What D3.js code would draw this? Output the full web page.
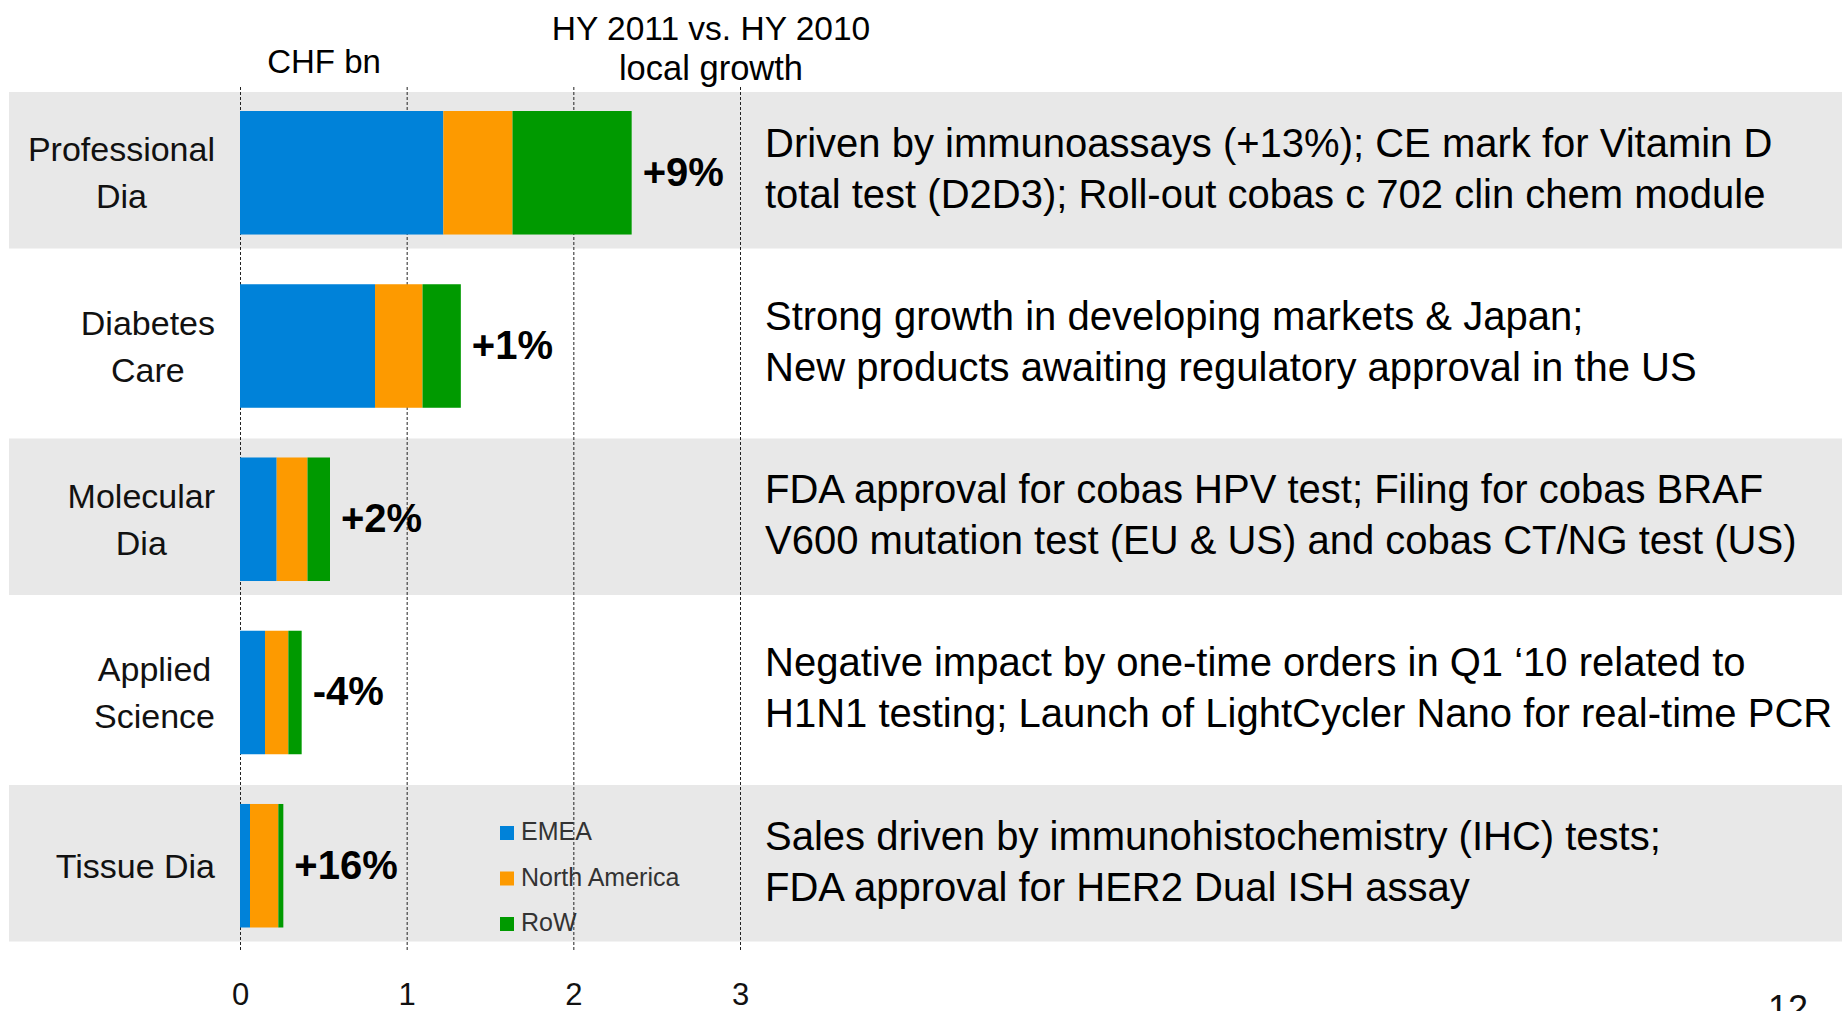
<!DOCTYPE html>
<html>
<head>
<meta charset="utf-8">
<script src="https://cdn.jsdelivr.net/npm/d3@7"></script>
<style>
  html, body { margin: 0; padding: 0; background: #fff; }
  svg { display: block; font-family: "Liberation Sans", Arial, sans-serif; }
</style>
</head>
<body>
<div id="chart"></div>
<script>
// data (CHF bn, HY 2011)
const categories = ["Professional Dia", "Diabetes Care", "Molecular Dia", "Applied Science", "Tissue Dia"];
const categoryLines = [["Professional", "Dia"], ["Diabetes", "Care"], ["Molecular", "Dia"], ["Applied", "Science"], ["Tissue Dia"]];
const seriesNames = ["EMEA", "North America", "RoW"];
const emea = [1.22, 0.81, 0.22, 0.15, 0.06];
const northAmerica = [0.415, 0.285, 0.185, 0.14, 0.17];
const restOfWorld = [0.715, 0.23, 0.135, 0.08, 0.03];
const growth = ["+9%", "+1%", "+2%", "-4%", "+16%"];
const descriptions = [
  ["Driven by immunoassays (+13%); CE mark for Vitamin D", "total test (D2D3); Roll-out cobas c 702 clin chem module"],
  ["Strong growth in developing markets & Japan;", "New products awaiting regulatory approval in the US"],
  ["FDA approval for cobas HPV test; Filing for cobas BRAF", "V600 mutation test (EU & US) and cobas CT/NG test (US)"],
  ["Negative impact by one-time orders in Q1 \u201810 related to", "H1N1 testing; Launch of LightCycler Nano for real-time PCR"],
  ["Sales driven by immunohistochemistry (IHC) tests;", "FDA approval for HER2 Dual ISH assay"]
];
const tickValues = [0, 1, 2, 3];

const width = 1846;
const height = 1011;
const colors = ["#0082d9", "#fd9a00", "#009a00"];

const svg = d3.select("#chart")
  .append("svg")
  .attr("width", width)
  .attr("height", height);

// table for the stack
const table = categories.map((c, i) => ({
  category: c,
  "EMEA": emea[i],
  "North America": northAmerica[i],
  "RoW": restOfWorld[i]
}));
const stacked = d3.stack().keys(seriesNames)(table);
const totals = table.map(d => d3.sum(seriesNames, k => d[k]));

const x = d3.scaleLinear().domain([0, 3]).range([240, 740]);
const y = d3.scaleBand().domain(categories).range([111, 927.5]).paddingInner(0.287);
const color = d3.scaleOrdinal().domain(seriesNames).range(colors);

// alternating grey row bands
svg.append("g")
  .selectAll("rect")
  .data(categories.filter((c, i) => i % 2 === 0))
  .join("rect")
  .attr("x", 9)
  .attr("width", 1833)
  .attr("y", d => y(d) - 19)
  .attr("height", d => y.bandwidth() + 33)
  .attr("fill", "#e8e8e8");

// dashed grid lines
svg.append("g")
  .selectAll("line")
  .data(tickValues)
  .join("line")
  .attr("x1", d => x(d) + 0.5)
  .attr("x2", d => x(d) + 0.5)
  .attr("y1", 87)
  .attr("y2", 952)
  .attr("stroke", "#222")
  .attr("stroke-width", 1)
  .attr("stroke-dasharray", "3,2");

// stacked bars
svg.append("g")
  .selectAll("g")
  .data(stacked)
  .join("g")
  .attr("fill", d => color(d.key))
  .selectAll("rect")
  .data(d => d)
  .join("rect")
  .attr("x", d => x(d[0]))
  .attr("width", d => x(d[1]) - x(d[0]))
  .attr("y", d => y(d.data.category))
  .attr("height", y.bandwidth());

// category labels: block right aligned, lines centred within it
const labels = svg.append("g")
  .attr("font-size", 34)
  .attr("fill", "#111")
  .attr("text-anchor", "middle");

categories.forEach((c, i) => {
  const lines = categoryLines[i];
  const cy = y(c) + y.bandwidth() / 2;
  const t = labels.append("text");
  const spans = lines.map((line, j) => t.append("tspan")
    .attr("y", cy + 12 + (j - (lines.length - 1) / 2) * 47)
    .text(line));
  const maxW = d3.max(spans, s => s.node().getComputedTextLength());
  spans.forEach(s => s.attr("x", 215 - maxW / 2));
});

// growth labels
svg.append("g")
  .selectAll("text")
  .data(categories)
  .join("text")
  .attr("x", (d, i) => x(totals[i]) + 11)
  .attr("y", d => y(d) + y.bandwidth() / 2 + 13)
  .attr("font-size", 40)
  .attr("font-weight", "bold")
  .attr("fill", "#000")
  .text((d, i) => growth[i]);

// descriptions
const desc = svg.append("g")
  .attr("font-size", 40)
  .attr("fill", "#000");

categories.forEach((c, i) => {
  const cy = y(c) + y.bandwidth() / 2;
  const t = desc.append("text");
  descriptions[i].forEach((line, j) => {
    t.append("tspan")
      .attr("x", 765)
      .attr("y", cy - 16 + j * 51)
      .text(line);
  });
});

// headers
svg.append("text")
  .attr("x", 324)
  .attr("y", 73)
  .attr("text-anchor", "middle")
  .attr("font-size", 33)
  .text("CHF bn");

const head = svg.append("text")
  .attr("text-anchor", "middle")
  .attr("font-size", 33.5);
head.append("tspan").attr("x", 711).attr("y", 40).text("HY 2011 vs. HY 2010");
head.append("tspan").attr("x", 711).attr("y", 80).attr("font-size", 34.5).text("local growth");

// x axis
const axis = svg.append("g")
  .attr("transform", "translate(0,983)")
  .call(d3.axisBottom(x).tickValues(tickValues).tickSize(0).tickPadding(0).tickFormat(d3.format("d")));
axis.select(".domain").remove();
axis.selectAll("text")
  .attr("font-size", 31)
  .attr("font-family", "Liberation Sans, Arial, sans-serif")
  .attr("fill", "#111");

// legend
const legend = svg.append("g")
  .selectAll("g")
  .data(seriesNames)
  .join("g")
  .attr("transform", (d, i) => `translate(500,${826 + i * 45.5})`);

legend.append("rect")
  .attr("width", 14)
  .attr("height", 14)
  .attr("fill", d => color(d));

legend.append("text")
  .attr("x", 21)
  .attr("y", 14)
  .attr("font-size", 25)
  .attr("fill", "#333")
  .text(d => d);

// page number, cut by the bottom edge as on the slide
svg.append("text")
  .attr("x", 1788)
  .attr("y", 1021)
  .attr("text-anchor", "middle")
  .attr("font-size", 36)
  .attr("fill", "#111")
  .text("12");
</script>
</body>
</html>
